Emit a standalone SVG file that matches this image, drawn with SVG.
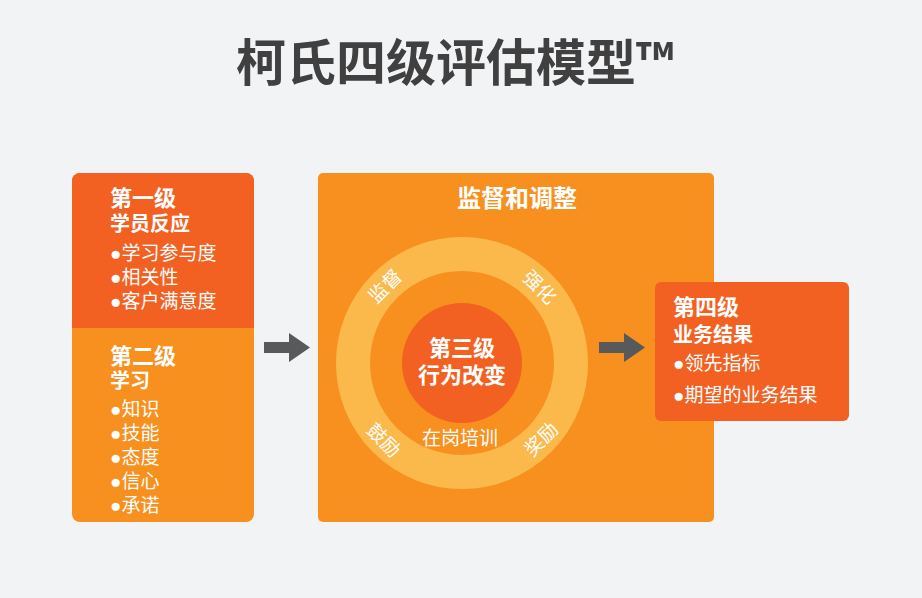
<svg xmlns="http://www.w3.org/2000/svg" width="922" height="598" viewBox="0 0 922 598">
<style>
text{font-family:"Noto Sans CJK SC","Noto Sans",sans-serif;fill:#fff}
.h1{font-size:22px;font-weight:700}
.h2{font-size:20px;font-weight:700}
.li{font-size:19px}
.b{font-family:"Liberation Sans",Arial,sans-serif}
.ring{font-size:19px}
.title{font-size:50px;font-weight:700;fill:#404040}
</style>
<defs>
<polygon id="arr" points="0,9 25,9 25,0 46,14.5 25,29 25,20 0,20" fill="#58595B"/>
</defs>
<rect width="922" height="598" fill="#F2F3F5"/>
<text class="title" x="455" y="81" text-anchor="middle">柯氏四级评估模型™</text>

<g id="left-panel">
<rect x="72" y="173" width="182" height="349" rx="8" fill="#F7901E"/>
<path d="M72,181 a8,8 0 0 1 8,-8 H246 a8,8 0 0 1 8,8 V328 H72 Z" fill="#F26122"/>
<g id="level1">
<text class="h1" x="110" y="206">第一级</text>
<text class="h2" x="110" y="231">学员反应</text>
<text class="li" x="110" y="260"><tspan class="b">●</tspan>学习参与度</text>
<text class="li" x="110" y="284"><tspan class="b">●</tspan>相关性</text>
<text class="li" x="110" y="308"><tspan class="b">●</tspan>客户满意度</text>
</g>
<g id="level2">
<text class="h1" x="110" y="364">第二级</text>
<text class="h2" x="110" y="388">学习</text>
<text class="li" x="110" y="416"><tspan class="b">●</tspan>知识</text>
<text class="li" x="110" y="440"><tspan class="b">●</tspan>技能</text>
<text class="li" x="110" y="464"><tspan class="b">●</tspan>态度</text>
<text class="li" x="110" y="488"><tspan class="b">●</tspan>信心</text>
<text class="li" x="110" y="512"><tspan class="b">●</tspan>承诺</text>
</g>
</g>

<g id="middle-panel">
<rect x="318" y="173" width="396" height="349" rx="5" fill="#F7901E"/>
<text class="h1" x="517" y="207" text-anchor="middle" style="font-size:24px">监督和调整</text>
<circle cx="462" cy="363" r="109" fill="none" stroke="#FBB84B" stroke-width="34"/>
<g id="level3">
<circle cx="462" cy="363" r="60" fill="#F26122"/>
<text class="h1" x="462" y="356" text-anchor="middle">第三级</text>
<text class="h1" x="462" y="383" text-anchor="middle">行为改变</text>
</g>
<text class="li" x="460" y="445" text-anchor="middle">在岗培训</text>
<text class="ring" text-anchor="middle" transform="translate(385,286) rotate(-45)" y="7">监督</text>
<text class="ring" text-anchor="middle" transform="translate(540,287) rotate(45)" y="7">强化</text>
<text class="ring" text-anchor="middle" transform="translate(384,440) rotate(45)" y="7">鼓励</text>
<text class="ring" text-anchor="middle" transform="translate(541,439) rotate(-45)" y="7">奖励</text>
</g>

<g id="level4">
<rect x="655" y="282" width="194" height="139" rx="6" fill="#F26122"/>
<text class="h1" x="673" y="315">第四级</text>
<text class="h2" x="673" y="342">业务结果</text>
<text class="li" x="673" y="370"><tspan class="b">●</tspan>领先指标</text>
<text class="li" x="673" y="402"><tspan class="b">●</tspan>期望的业务结果</text>
</g>

<g id="connectors">
<use href="#arr" x="264" y="333"/>
<use href="#arr" x="599" y="333"/>
</g>
</svg>
